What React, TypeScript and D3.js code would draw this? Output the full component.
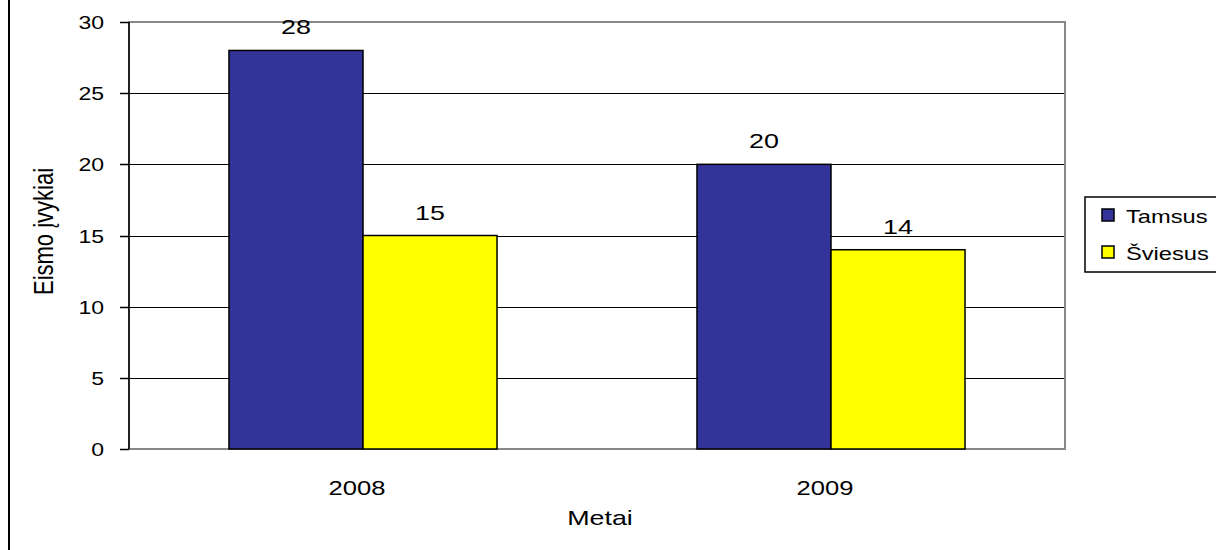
import React from "react";
import * as d3 from "d3";

// Road accidents by year, split by lighting conditions
const years = ["2008", "2009"];
const seriesNames = ["Tamsus", "Šviesus"];
const tamsus = [28, 20];
const sviesus = [15, 14];
const seriesColors = ["#333399", "#FFFF00"];
const yTicks = [0, 5, 10, 15, 20, 25, 30];

const W = 1216;
const H = 550;
const FONT = "'Liberation Sans', Arial, sans-serif";
const SX = 1.28; // horizontal stretch of the typeface

const plot = { left: 129, right: 1065, top: 22, bottom: 449 };

function SText({ x, y, size, anchor = "middle", children, rotate = 0 }: any) {
  return (
    <text
      transform={`translate(${x},${y}) scale(${SX},1)${rotate ? ` rotate(${rotate})` : ""}`}
      fontFamily={FONT}
      fontSize={size}
      textAnchor={anchor}
      fill="#000"
    >
      {children}
    </text>
  );
}

export default function App() {
  const values = [tamsus, sviesus];
  const y = d3.scaleLinear().domain([0, 30]).range([plot.bottom, plot.top]);
  const x0 = d3.scaleBand<string>().domain(years).range([plot.left, plot.right]).padding(0);
  const x1 = d3
    .scaleBand<string>()
    .domain(seriesNames)
    .range([0, x0.bandwidth()])
    .paddingInner(0)
    .paddingOuter(0.746);

  const cx = (plot.left + plot.right) / 2;
  const cy = (plot.top + plot.bottom) / 2;

  return (
    <svg
      width={W}
      height={H}
      style={{ position: "absolute", left: 0, top: 0, background: "#fff" }}
    >
      <rect x={0} y={0} width={W} height={H} fill="#fff" />
      {/* outer chart frame (left edge visible) */}
      <line x1={9} y1={0} x2={9} y2={H} stroke="#000" strokeWidth={2} />

      {/* gridlines */}
      {yTicks
        .filter((t) => t !== 0 && t !== 30)
        .map((t) => (
          <line
            key={`g${t}`}
            x1={plot.left}
            x2={plot.right}
            y1={Math.round(y(t)) + 0.5}
            y2={Math.round(y(t)) + 0.5}
            stroke="#000"
            strokeWidth={1.2}
          />
        ))}

      {/* plot area border */}
      <rect
        x={plot.left}
        y={plot.top}
        width={plot.right - plot.left}
        height={plot.bottom - plot.top}
        fill="none"
        stroke="#888"
        strokeWidth={2}
      />

      {/* bars */}
      {years.map((yr, i) => (
        <g key={yr} transform={`translate(${x0(yr)},0)`}>
          {seriesNames.map((s, j) => {
            const v = values[j][i];
            return (
              <g key={s}>
                <rect
                  x={x1(s)}
                  y={y(v)}
                  width={x1.bandwidth()}
                  height={y(0) - y(v)}
                  fill={seriesColors[j]}
                  stroke="#000"
                  strokeWidth={1.5}
                />
                <SText x={(x1(s) as number) + x1.bandwidth() / 2} y={y(v) - 16} size={21}>
                  {v}
                </SText>
              </g>
            );
          })}
        </g>
      ))}

      {/* y axis */}
      <line x1={plot.left} x2={plot.left} y1={plot.top} y2={plot.bottom} stroke="#000" strokeWidth={1.5} />
      {yTicks.map((t) => (
        <g key={`t${t}`}>
          <line
            x1={plot.left - 9}
            x2={plot.left}
            y1={Math.round(y(t)) + 0.5}
            y2={Math.round(y(t)) + 0.5}
            stroke="#000"
            strokeWidth={1.5}
          />
          <SText x={104} y={y(t) + 7} size={18} anchor="end">
            {t}
          </SText>
        </g>
      ))}

      {/* category labels */}
      {years.map((yr) => (
        <SText key={`c${yr}`} x={(x0(yr) as number) + x0.bandwidth() / 2 - 6} y={495} size={20}>
          {yr}
        </SText>
      ))}

      {/* axis titles */}
      <SText x={cx + 3} y={525} size={21}>
        Metai
      </SText>
      <SText x={53} y={cy - 4} size={22} rotate={-90}>
        Eismo įvykiai
      </SText>

      {/* legend */}
      <rect x={1085} y={197} width={160} height={75} fill="#fff" stroke="#000" strokeWidth={1.5} />
      {seriesNames.map((s, j) => (
        <g key={`l${s}`}>
          <rect
            x={1102}
            y={209 + j * 37}
            width={12}
            height={12}
            fill={seriesColors[j]}
            stroke="#000"
            strokeWidth={1.5}
          />
          <SText x={1126} y={223 + j * 37} size={18.5} anchor="start">
            {s}
          </SText>
        </g>
      ))}
    </svg>
  );
}
